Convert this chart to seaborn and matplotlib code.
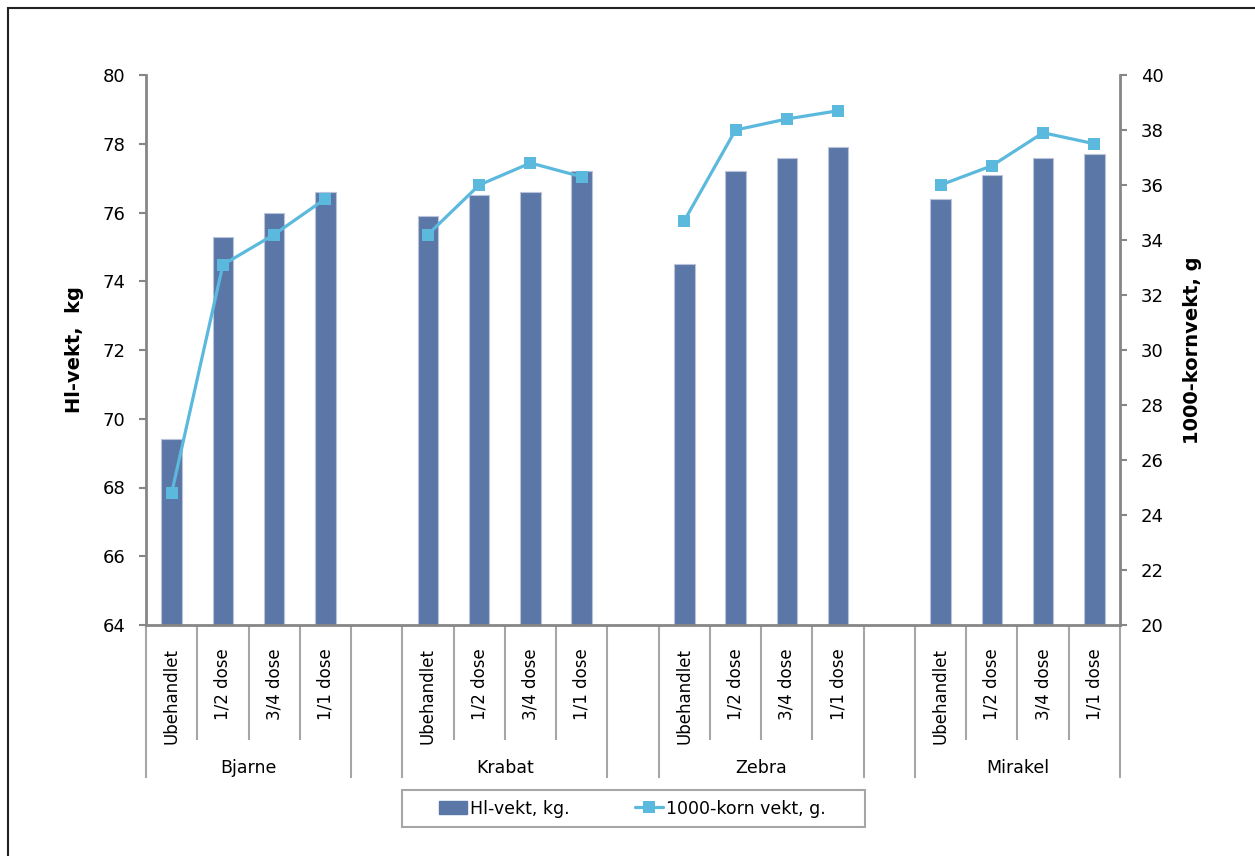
import matplotlib
matplotlib.use("Agg")
import matplotlib.pyplot as plt
import matplotlib.transforms as mtrans
from matplotlib import font_manager
from matplotlib.patches import Patch, Rectangle
from matplotlib.lines import Line2D
import seaborn as sns
import pandas as pd

# ---------------- data ----------------
varieties = ["Bjarne", "Krabat", "Zebra", "Mirakel"]
treatments = ["Ubehandlet", "1/2 dose", "3/4 dose", "1/1 dose"]
hl_bjarne = [69.4, 75.3, 76.0, 76.6]
hl_krabat = [75.9, 76.5, 76.6, 77.2]
hl_zebra = [74.5, 77.2, 77.6, 77.9]
hl_mirakel = [76.4, 77.1, 77.6, 77.7]
tkv_bjarne = [24.8, 33.1, 34.2, 35.5]
tkv_krabat = [34.2, 36.0, 36.8, 36.3]
tkv_zebra = [34.7, 38.0, 38.4, 38.7]
tkv_mirakel = [36.0, 36.7, 37.9, 37.5]
hl_label = "Hl-vekt, kg."
tkv_label = "1000-korn vekt, g."
left_title = "Hl-vekt,  kg"
right_title = "1000-kornvekt, g"

hl_all = [hl_bjarne, hl_krabat, hl_zebra, hl_mirakel]
tkv_all = [tkv_bjarne, tkv_krabat, tkv_zebra, tkv_mirakel]

# slot order (with empty gap slots between varieties)
order = []
for gi, v in enumerate(varieties):
    for t in treatments:
        order.append(f"{v}|{t}")
    if gi < len(varieties) - 1:
        order.append(f"gap{gi}")

rows = []
for v, hl, tk in zip(varieties, hl_all, tkv_all):
    for t, h, k in zip(treatments, hl, tk):
        slot = f"{v}|{t}"
        rows.append(dict(variety=v, treatment=t, slot=slot, pos=order.index(slot), hl=h, tkv=k))
df = pd.DataFrame(rows)

# ---------------- fonts ----------------
avail = {f.name for f in font_manager.fontManager.ttflist}
sns.set_theme(style="white")
main_font = "DejaVu Sans"
num_font = "Liberation Sans Narrow" if "Liberation Sans Narrow" in avail else "DejaVu Sans"
plt.rcParams["font.family"] = [main_font]
plt.rcParams["text.color"] = "black"
plt.rcParams["axes.labelcolor"] = "black"
plt.rcParams["xtick.labelcolor"] = "black"
plt.rcParams["ytick.labelcolor"] = "black"

W, H = 1255, 856
fig = plt.figure(figsize=(W / 100, H / 100), dpi=100)
fig.patch.set_facecolor("white")
ax_l, ax_r, ax_t, ax_b = 146, 1120, 75, 625
ax = fig.add_axes([ax_l / W, 1 - ax_b / H, (ax_r - ax_l) / W, (ax_b - ax_t) / H])

bar_color = "#5B77A7"
line_color = "#5BB9DD"
axis_gray = "#868686"

sns.barplot(data=df, x="slot", y="hl", order=order, color=bar_color, width=0.4,
            edgecolor="#B9C4DA", linewidth=0.8, saturation=1, ax=ax)
ax.set_xlim(-0.5, len(order) - 0.5)
ax.set_ylim(64, 80)
ax.set_yticks(range(64, 81, 2))
ax.set_xlabel("")
ax.set_ylabel("")

ax2 = ax.twinx()
sns.lineplot(data=df, x="pos", y="tkv", units="variety", estimator=None, ax=ax2,
             color=line_color, linewidth=2.3, marker="s", markersize=9,
             markeredgewidth=0, legend=False)
ax2.set_ylim(20, 40)
ax2.set_yticks(range(20, 41, 2))
ax2.set_xlim(-0.5, len(order) - 0.5)
ax2.set_xlabel("")
ax2.set_ylabel("")

for a in (ax, ax2):
    a.spines["top"].set_visible(False)
    for s in ("left", "right", "bottom"):
        a.spines[s].set_color(axis_gray)
        a.spines[s].set_linewidth(2)
    a.grid(False)
ax.spines["right"].set_visible(False)
ax2.spines["left"].set_visible(False)
ax2.spines["bottom"].set_visible(False)
ax.patch.set_alpha(0)

ax.tick_params(axis="y", direction="out", length=5, width=1.5, color=axis_gray,
               labelsize=13, pad=10, left=True, labelcolor="black")
ax2.tick_params(axis="y", direction="out", length=5, width=1.5, color=axis_gray,
                labelsize=13, pad=10, right=True, labelcolor="black")
for lab in ax.get_yticklabels() + ax2.get_yticklabels():
    lab.set_family(num_font)

# x axis: long tick lines at slot boundaries, custom labels
group_bounds = []
inner_bounds = []
pos = 0
for gi in range(len(varieties)):
    start = pos
    group_bounds.append(start - 0.5)
    for k in range(1, len(treatments)):
        inner_bounds.append(start + k - 0.5)
    pos += len(treatments)
    group_bounds.append(pos - 0.5)
    pos += 1
ax.set_xticks(group_bounds)
ax.set_xticks(inner_bounds, minor=True)
ax.set_xticklabels([])
ax.tick_params(axis="x", which="major", direction="out", length=110, width=1.5,
               color="#A6A6A6", bottom=True)
ax.tick_params(axis="x", which="minor", direction="out", length=83, width=1.5,
               color="#A6A6A6", bottom=True)

trans = mtrans.blended_transform_factory(ax.transData, fig.transFigure)
for _, r in df.iterrows():
    ax.text(r["pos"], 1 - 648 / H, r["treatment"], rotation=90, ha="center", va="top",
            fontsize=12, color="black", transform=trans)
for gi, v in enumerate(varieties):
    center = gi * 5 + 1.5
    ax.text(center, 1 - 768 / H, v, ha="center", va="center", fontsize=12.5,
            family=num_font, color="black", transform=trans)

fig.text(75 / W, 1 - 350 / H, left_title, rotation=90, ha="center", va="center",
         fontsize=14, fontweight="bold", color="black")
fig.text(1192 / W, 1 - 350 / H, right_title, rotation=90, ha="center", va="center",
         fontsize=14, fontweight="bold", color="black")

# legend: frame box plus expanded entries inside
leg_x0, leg_x1, leg_y0, leg_y1 = 402, 865, 790, 827
fig.add_artist(Rectangle((leg_x0 / W, 1 - leg_y1 / H), (leg_x1 - leg_x0) / W,
                         (leg_y1 - leg_y0) / H, transform=fig.transFigure,
                         fill=True, facecolor="white", edgecolor="#A6A6A6", linewidth=1.5))
handles = [Patch(facecolor=bar_color, edgecolor=bar_color),
           Line2D([0], [0], color=line_color, lw=2.3, marker="s", markersize=9,
                  markeredgewidth=0)]
in_x0, in_x1 = 439, 826
leg = fig.legend(handles, [hl_label, tkv_label], loc="center",
                 bbox_to_anchor=(in_x0 / W, 1 - leg_y1 / H, (in_x1 - in_x0) / W,
                                 (leg_y1 - leg_y0) / H),
                 mode="expand", ncol=2, frameon=False,
                 handlelength=1.6, handletextpad=0.2, borderaxespad=0,
                 columnspacing=3.0, borderpad=0.0,
                 prop={"family": num_font, "size": 12.5}, labelcolor="black")
leg.set_zorder(5)

# outer chart border
fig.add_artist(Rectangle((8 / W, -0.1), 1.2, 1 - 8 / H + 0.1, transform=fig.transFigure,
                         fill=False, edgecolor="#222222", linewidth=1.5))

fig.savefig("out.png", dpi=100, facecolor="white")
